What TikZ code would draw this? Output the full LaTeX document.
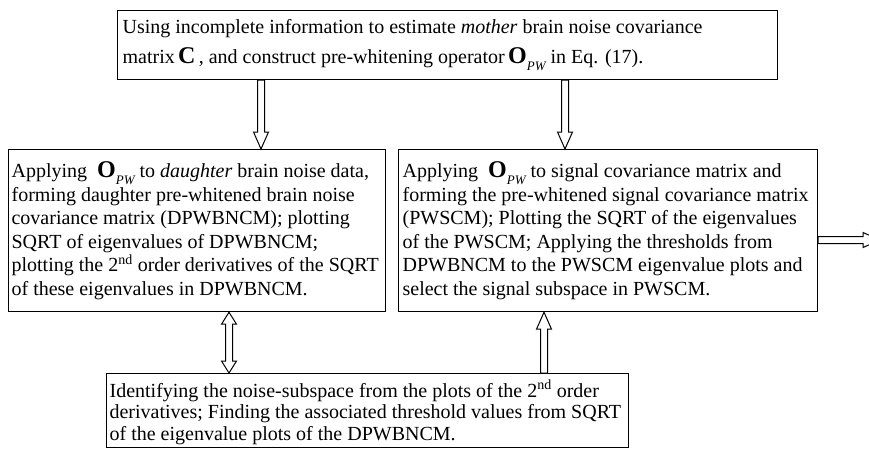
\documentclass[tikz,border=0pt]{standalone}
\usepackage{fontspec}
\setmainfont{Liberation Serif}
\usetikzlibrary{calc}
\newcommand\OPW{{\fontsize{24}{24}\selectfont\bfseries O}\raisebox{-0.32em}{\fontsize{13}{13}\selectfont\itshape PW}}
\newcommand\bigC{{\fontsize{24}{24}\selectfont\bfseries C}}
% hollow single-headed arrow from #1 (tail) to #2 (tip)
\newcommand\hollowarr[2]{%
  \coordinate (hc) at ($(#2)!17pt!(#1)$);
  \draw[arrline] ($(#1)!3.5pt!90:(#2)$) -- ($(hc)!3.5pt!90:(#2)$) -- ($(hc)!7.5pt!90:(#2)$) -- (#2)
     -- ($(hc)!7.5pt!-90:(#2)$) -- ($(hc)!3.5pt!-90:(#2)$) -- ($(#1)!3.5pt!-90:(#2)$) -- cycle;}
% hollow double-headed arrow between #1 and #2
\newcommand\hollowdarr[2]{%
  \coordinate (hc) at ($(#2)!12pt!(#1)$);
  \coordinate (hd) at ($(#1)!12pt!(#2)$);
  \draw[arrline] (#1) -- ($(hd)!7.5pt!90:(#2)$) -- ($(hd)!3.5pt!90:(#2)$) -- ($(hc)!3.5pt!90:(#2)$)
     -- ($(hc)!7.5pt!90:(#2)$) -- (#2) -- ($(hc)!7.5pt!-90:(#2)$) -- ($(hc)!3.5pt!-90:(#2)$)
     -- ($(hd)!3.5pt!-90:(#2)$) -- ($(hd)!7.5pt!-90:(#2)$) -- cycle;}
\tikzset{
  box/.style={draw, line width=1.2pt, inner xsep=3pt, inner ysep=0pt, align=flush left,
    anchor=north west, font=\fontsize{20}{23.5}\selectfont},
  arrline/.style={draw, line width=1pt, line join=miter}
}
\begin{document}
\begin{tikzpicture}[x=1pt,y=1pt]
\useasboundingbox (0,0) rectangle (869,448);
\fill[white] (0,0) rectangle (869,448);

\node[box, inner xsep=5pt, text width=650pt, minimum height=69pt, font=\fontsize{20}{30}\selectfont] (top) at (117,438)
  {Using incomplete information to estimate \textit{mother} brain noise covariance\\
   matrix\,\bigC\,, and construct pre-whitening operator\,\OPW{} in Eq. (17).};

\node[box, text width=371pt, minimum height=162pt] (left) at (8,299)
  {Applying~~\OPW{} to \textit{daughter} brain noise data,\\
   forming daughter pre-whitened brain noise\\
   covariance matrix (DPWBNCM); plotting\\
   SQRT of eigenvalues of DPWBNCM;\\
   plotting the 2\textsuperscript{nd} order derivatives of the SQRT\\
   of these eigenvalues in DPWBNCM.};

\node[box, inner xsep=4pt, text width=411pt, minimum height=162pt] (right) at (398,299)
  {Applying~~\OPW{} to signal covariance matrix and\\
   forming the pre-whitened signal covariance matrix\\
   (PWSCM); Plotting the SQRT of the eigenvalues\\
   of the PWSCM; Applying the thresholds from\\
   DPWBNCM to the PWSCM eigenvalue plots and\\
   select the signal subspace in PWSCM.};

\node[box, text width=516pt, minimum height=74pt, font=\fontsize{20}{21.7}\selectfont] (bottom) at (106,75)
  {\rule{0pt}{21pt}Identifying the noise-subspace from the plots of the 2\textsuperscript{nd} order\\
   derivatives; Finding the associated threshold values from SQRT\\
   of the eigenvalue plots of the DPWBNCM.};

\coordinate (x1) at (261,0);
\coordinate (x2) at (565,0);
\coordinate (x3) at (229,0);
\coordinate (x4) at (544,0);
\coordinate (out) at (880,208);

\coordinate (a1) at (top.south -| x1);
\coordinate (b1) at (left.north -| x1);
\coordinate (a2) at (top.south -| x2);
\coordinate (b2) at (right.north -| x2);
\coordinate (a3) at (left.south -| x3);
\coordinate (b3) at (bottom.north -| x3);
\coordinate (a4) at (bottom.north -| x4);
\coordinate (b4) at (right.south -| x4);
\coordinate (a5) at (right.east |- out);

\hollowarr{a1}{b1}
\hollowarr{a2}{b2}
\hollowdarr{a3}{b3}
\hollowarr{a4}{b4}
\hollowarr{a5}{out}
\end{tikzpicture}
\end{document}
